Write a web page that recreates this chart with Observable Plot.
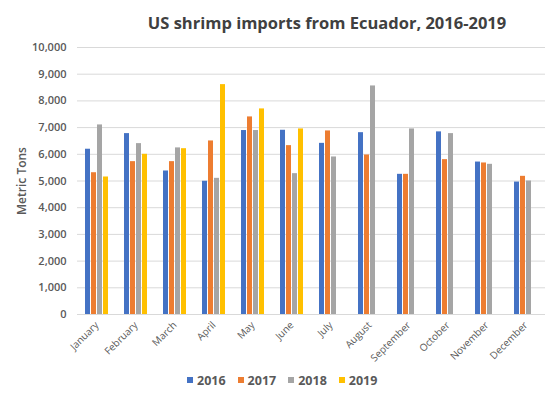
<!DOCTYPE html>
<html><head><meta charset="utf-8">
<script src="https://cdn.jsdelivr.net/npm/d3@7"></script>
<script src="https://cdn.jsdelivr.net/npm/@observablehq/plot@0.6"></script>
<style>
body{margin:0;background:#fff;font-family:"Open Sans",sans-serif;}
#wrap{width:554px;height:395px;position:relative;overflow:hidden;background:#fff}
#title{position:relative;height:38px}
#title span{position:absolute;left:327px;top:11px;transform:translateX(-50%);font-size:16.5px;font-weight:700;color:#404040;white-space:nowrap}
#chart svg{display:block}
#legend{height:30px;display:flex;align-items:center;padding-left:187px;font-size:12.5px;font-weight:700;color:#595959}
#legend .item{display:flex;align-items:center;margin-right:12px}
#legend .sw{width:6px;height:6px;margin-right:4px}
</style></head>
<body><div id="wrap"><div id="title"><span>US shrimp imports from Ecuador, 2016-2019</span></div><div id="chart"></div><div id="legend"></div></div>
<script>
const months = ["January","February","March","April","May","June","July","August","September","October","November","December"];
const years = ["2016","2017","2018","2019"];
const colors = ["#4472C4","#ED7D31","#A5A5A5","#FFC000"];
const v2016 = [6190,6775,5375,4990,6890,6900,6410,6810,5250,6840,5710,4960];
const v2017 = [5310,5725,5725,6500,7400,6325,6875,5975,5250,5800,5675,5175];
const v2018 = [7100,6400,6240,5100,6890,5275,5900,8560,6950,6775,5625,5000];
const v2019 = [5150,6000,6210,8610,7700,6950];
const yTicks = [0,1000,2000,3000,4000,5000,6000,7000,8000,9000,10000];
const yLabel = "Metric Tons";

const series = [v2016, v2017, v2018, v2019];
const data = [];
series.forEach((vals, i) => vals.forEach((v, j) => data.push({month: months[j], year: years[i], value: v})));

const chart = Plot.plot({
  width: 554, height: 327,
  marginTop: 9, marginBottom: 51, marginLeft: 77, marginRight: 9,
  style: {fontFamily: '"Open Sans", sans-serif', color: "#595959", background: "transparent"},
  fx: {domain: months, padding: 0, label: null, axis: null},
  x: {domain: years, axis: null, paddingInner: 0.19, paddingOuter: 0.9},
  y: {domain: [0, 10000], axis: null},
  color: {domain: years, range: colors},
  marks: [
    Plot.gridY(yTicks, {stroke: "#d9d9d9", strokeOpacity: 1}),
    Plot.barY(data, {fx: "month", x: "year", y: "value", fill: "year"}),
    Plot.axisY(yTicks, {tickSize: 0, tickPadding: 11, tickFormat: d => d3.format(",")(d), label: yLabel, labelArrow: "none", labelAnchor: "center", labelOffset: 60, fontSize: 11, fill: "#595959"}),
    Plot.axisFx({anchor: "bottom", tickRotate: -45, tickSize: 0, tickPadding: 9, label: null, fontSize: 10, fill: "#595959"})
  ]
});
document.getElementById("chart").appendChild(chart);
d3.select(chart).selectAll("g[aria-label='y-axis tick label'] text").attr("font-weight", 600);
d3.select(chart).selectAll("g[aria-label='y-axis label'] text").attr("font-weight", 600).attr("font-size", 12);

const legend = document.getElementById("legend");
years.forEach((y, i) => {
  const it = document.createElement("div"); it.className = "item";
  const sw = document.createElement("div"); sw.className = "sw"; sw.style.background = colors[i];
  const t = document.createElement("span"); t.textContent = y;
  it.appendChild(sw); it.appendChild(t); legend.appendChild(it);
});
</script></body></html>
